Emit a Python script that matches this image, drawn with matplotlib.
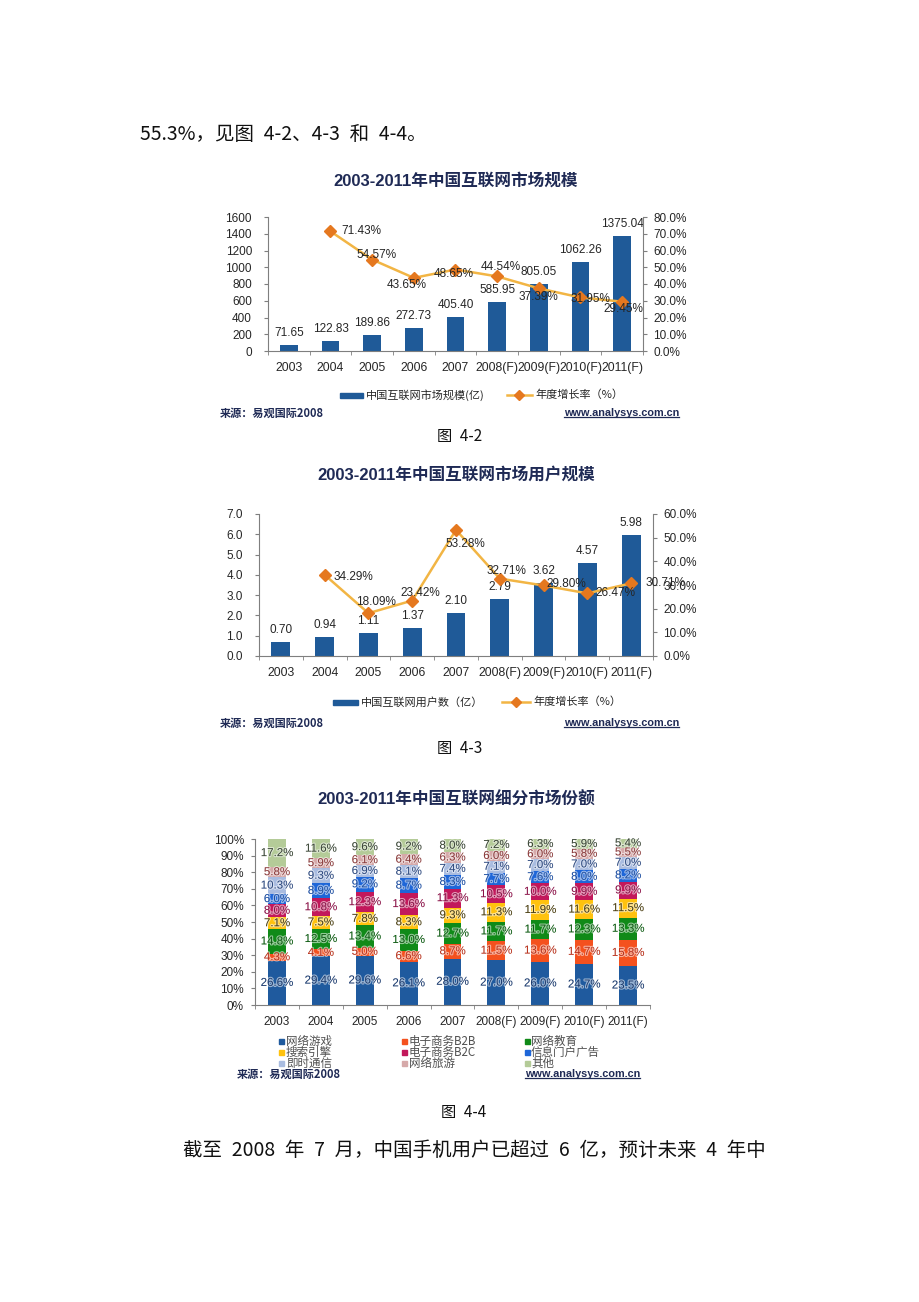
import numpy as np
import matplotlib
matplotlib.use('Agg')
import matplotlib.pyplot as plt
from matplotlib.lines import Line2D
from matplotlib.patches import Rectangle
import matplotlib.patheffects as pe
from matplotlib.ticker import FormatStrFormatter

plt.rcParams['font.family'] = ['Liberation Sans', 'Noto Sans CJK SC', 'DejaVu Sans']

# ---------------- data ----------------
years = ['2003', '2004', '2005', '2006', '2007', '2008(F)', '2009(F)', '2010(F)', '2011(F)']

market_size = [71.65, 122.83, 189.86, 272.73, 405.40, 585.95, 805.05, 1062.26, 1375.04]
market_growth = [np.nan, 71.43, 54.57, 43.65, 48.65, 44.54, 37.39, 31.95, 29.45]

users = [0.70, 0.94, 1.11, 1.37, 2.10, 2.79, 3.62, 4.57, 5.98]
user_growth = [np.nan, 34.29, 18.09, 23.42, 53.28, 32.71, 29.80, 26.47, 30.71]

segments = ['网络游戏', '电子商务B2B', '网络教育', '搜索引擎', '电子商务B2C',
            '信息门户广告', '即时通信', '网络旅游', '其他']
share_games = [26.6, 29.4, 29.6, 26.1, 28.0, 27.0, 26.0, 24.7, 23.5]
share_b2b = [4.3, 4.1, 5.0, 6.6, 8.7, 11.5, 13.6, 14.7, 15.8]
share_edu = [14.8, 12.5, 13.4, 13.0, 12.7, 11.7, 11.7, 12.3, 13.3]
share_search = [7.1, 7.5, 7.8, 8.3, 9.3, 11.3, 11.9, 11.6, 11.5]
share_b2c = [8.0, 10.8, 12.3, 13.6, 11.3, 10.5, 10.0, 9.9, 9.9]
share_portal = [6.0, 8.9, 9.2, 8.7, 8.3, 7.7, 7.6, 8.0, 8.2]
share_im = [10.3, 9.3, 6.9, 8.1, 7.4, 7.1, 7.0, 7.0, 7.0]
share_travel = [5.8, 5.9, 6.1, 6.4, 6.3, 6.0, 6.0, 5.8, 5.5]
share_other = [17.2, 11.6, 9.6, 9.2, 8.0, 7.2, 6.3, 5.9, 5.4]

# ---------------- styles ----------------
W, H = 920, 1302
BAR = '#1F5A98'
LINE = '#F2B544'
MARK = '#E5781F'
AXC = '#7F7F7F'
TXT = '#262626'
TITLE_C = '#1F2A55'
SEG_COLORS = ['#1F5A9E', '#F4511E', '#108A18', '#FFC20E', '#C2185B',
              '#1E66D8', '#A9BCE0', '#D6A9A9', '#B4CB98']
SEG_TXT = ['#1A3A6E', '#B8301A', '#0B5A10', '#4A3E10', '#8A1046',
           '#1A4CA0', '#2E4A80', '#8A3A3A', '#3A4636']
growth_off1 = [None, (31, 0), (4, -5), (-7, 7), (-2, 4), (4, -9), (0, 9), (10, 2), (1, 7)]
growth_off2 = [None, (29, 2), (8, -11), (8, -8), (9, 14), (7, -8), (23, -1), (28, 0), (34, 0)]
LBL_FS = 8.5
TICK_FS = 8.5
XT_FS = 8.8

fig = plt.figure(figsize=(W / 100, H / 100), dpi=100)
fig.patch.set_facecolor('white')


def axrect(l, t, r, b):
    return [l / W, 1 - b / H, (r - l) / W, (b - t) / H]


def T(x, y, s, **kw):
    return fig.text(x / W, 1 - y / H, s, **kw)


CJK = ['Noto Sans CJK SC', 'DejaVu Sans']
SP = '\u2002'


def style_axes(ax, fs=TICK_FS, pad=8.5):
    for sp in ['top', 'right']:
        ax.spines[sp].set_visible(False)
    ax.spines['left'].set_color(AXC)
    ax.spines['bottom'].set_color(AXC)
    ax.tick_params(axis='y', direction='out', length=3, color=AXC, labelsize=fs,
                   labelcolor=TXT, pad=pad)


def source_line(ytop, xl, xr):
    T(xl, ytop, '来源：易观国际2008', fontsize=8, fontweight='bold', color=TITLE_C,
      family=CJK, va='center', ha='left')
    t = T(xr, ytop, 'www.analysys.com.cn', fontsize=7.8, fontweight='bold',
          color=TITLE_C, va='center', ha='right')
    return t


url_texts = []


def bar_line_chart(rect, values, growth, ylim, ystep, yfmt, rlim, rstep,
                   vfmt, offs, bar_w, legend_y, leg_bar, leg_line, leg1, leg2):
    ax = fig.add_axes(axrect(*rect))
    x = np.arange(len(years))
    ax.bar(x, values, width=bar_w, color=BAR, zorder=2)
    ax.set_xlim(-0.5, len(years) - 0.5)
    ax.set_ylim(*ylim)
    ax.set_yticks(np.arange(ylim[0], ylim[1] + ystep / 2, ystep))
    ax.yaxis.set_major_formatter(FormatStrFormatter(yfmt))
    style_axes(ax)
    ax.set_xticks(x)
    ax.set_xticklabels(years)
    ax.set_xticks(np.arange(-0.5, len(years), 1), minor=True)
    ax.tick_params(axis='x', which='major', length=0, labelsize=XT_FS, labelcolor=TXT, pad=8)
    ax.tick_params(axis='x', which='minor', length=3, color=AXC, direction='out')
    for xi, v in zip(x, values):
        ax.annotate(vfmt % v, (xi, v), xytext=(0, 12), textcoords='offset pixels',
                    ha='center', va='center', fontsize=LBL_FS, color=TXT, zorder=5)
    axr = ax.twinx()
    axr.set_xlim(-0.5, len(years) - 0.5)
    for sp in ['top', 'left', 'bottom']:
        axr.spines[sp].set_visible(False)
    axr.spines['right'].set_color(AXC)
    axr.plot(x, growth, color=LINE, lw=1.8, marker='D', ms=6, mfc=MARK, mec=MARK, zorder=3)
    axr.set_ylim(*rlim)
    axr.set_yticks(np.arange(rlim[0], rlim[1] + rstep / 2, rstep))
    axr.yaxis.set_major_formatter(FormatStrFormatter('%.1f%%'))
    axr.tick_params(axis='y', direction='out', length=3, color=AXC, labelsize=TICK_FS,
                    labelcolor=TXT, pad=4.5)
    for xi, g, o in zip(x, growth, offs):
        if o is None or np.isnan(g):
            continue
        axr.annotate('%.2f%%' % g, (xi, g), xytext=(o[0], -o[1]), textcoords='offset pixels',
                     ha='center', va='center', fontsize=LBL_FS, color=TXT, zorder=6)
    # legend
    fig.add_artist(Rectangle((leg_bar[0] / W, 1 - (legend_y + 2.5) / H),
                             (leg_bar[1] - leg_bar[0]) / W, 5 / H, transform=fig.transFigure,
                             color=BAR))
    T(leg_bar[1] + 3, legend_y, leg1, fontsize=8, color=TXT, family=CJK, va='center')
    fig.add_artist(Line2D([leg_line[0] / W, leg_line[1] / W], [1 - legend_y / H] * 2,
                          transform=fig.transFigure, color=LINE, lw=1.8))
    fig.add_artist(Line2D([(leg_line[0] + leg_line[1]) / 2 / W], [1 - legend_y / H],
                          transform=fig.transFigure, marker='D', ms=5, mfc=MARK, mec=MARK))
    T(leg_line[1] + 3, legend_y, leg2, fontsize=8, color=TXT, family=CJK, va='center')
    return ax


# ---------------- body text ----------------
T(140, 135, '55.3%，见图' + SP + '4-2、4-3' + SP + '和' + SP + '4-4。', fontsize=14,
  family=CJK, va='center', ha='left', color='#111111')

# ---------------- chart 1 ----------------
T(456, 181, '2003-2011年中国互联网市场规模', fontsize=12, fontweight='bold',
  color=TITLE_C, ha='center', va='center')
bar_line_chart((268, 217, 643, 351), market_size, market_growth, (0, 1600), 200, '%d',
               (0, 80), 10, '%.2f', growth_off1, 0.42, 395, (340, 363), (507, 532),
               '中国互联网市场规模(亿)', '年度增长率（%）')
url_texts.append(source_line(413, 220, 679))
T(460, 436, '图' + SP + '4-2', fontsize=11, family=CJK, ha='center', va='center', color='#111111')

# ---------------- chart 2 ----------------
T(456, 475, '2003-2011年中国互联网市场用户规模', fontsize=12, fontweight='bold',
  color=TITLE_C, ha='center', va='center')
bar_line_chart((259, 514, 653, 656), users, user_growth, (0, 7), 1, '%.1f',
               (0, 60), 10, '%.2f', growth_off2, 0.43, 702, (333, 358), (502, 530),
               '中国互联网用户数（亿）', '年度增长率（%）')
url_texts.append(source_line(723, 220, 679))
T(460, 748, '图' + SP + '4-3', fontsize=11, family=CJK, ha='center', va='center', color='#111111')

# ---------------- chart 3 ----------------
T(456, 800, '2003-2011年中国互联网细分市场份额', fontsize=12, fontweight='bold',
  color=TITLE_C, ha='center', va='center')
ax3 = fig.add_axes(axrect(255, 839, 650, 1005))
shares = [share_games, share_b2b, share_edu, share_search, share_b2c,
          share_portal, share_im, share_travel, share_other]
x = np.arange(len(years))
bottom = np.zeros(len(years))
for i, (seg, vals) in enumerate(zip(segments, shares)):
    vals = np.array(vals)
    ax3.bar(x, vals, width=0.41, bottom=bottom, color=SEG_COLORS[i], zorder=2)
    for xi, b, v in zip(x, bottom, vals):
        ax3.text(xi, b + v / 2, '%.1f%%' % v, ha='center', va='center', fontsize=8.3,
                 color=SEG_TXT[i], zorder=5,
                 path_effects=[pe.withStroke(linewidth=1.6, foreground='white', alpha=0.55)])
    bottom = bottom + vals
ax3.set_xlim(-0.5, len(years) - 0.5)
ax3.set_ylim(0, 100)
ax3.set_yticks(np.arange(0, 101, 10))
ax3.yaxis.set_major_formatter(FormatStrFormatter('%d%%'))
style_axes(ax3, fs=8.5, pad=5)
ax3.set_xticks(x)
ax3.set_xticklabels(years)
ax3.set_xticks(np.arange(-0.5, len(years), 1), minor=True)
ax3.tick_params(axis='x', which='major', length=0, labelsize=8.5, labelcolor=TXT, pad=8)
ax3.tick_params(axis='x', which='minor', length=3, color=AXC, direction='out')

leg_cols = [282, 405, 527]
leg_rows = [1041, 1052, 1063]
for i, seg in enumerate(segments):
    cx = leg_cols[i % 3]
    cy = leg_rows[i // 3]
    fig.add_artist(Rectangle(((cx - 2.5) / W, 1 - (cy + 2.5) / H), 5 / W, 5 / H,
                             transform=fig.transFigure, color=SEG_COLORS[i]))
    T(cx + 4, cy, seg, fontsize=8.3, color='#505050', family=CJK, va='center', ha='left')
url_texts.append(source_line(1074, 237, 640))
T(464, 1112, '图' + SP + '4-4', fontsize=11, family=CJK, ha='center', va='center', color='#111111')

T(183, 1150, SP.join(['截至', '2008', '年', '7', '月，中国手机用户已超过', '6',
                      '亿，预计未来', '4', '年中']), fontsize=14,
  family=CJK, va='center', ha='left', color='#111111')

# underline urls
fig.canvas.draw()
r = fig.canvas.get_renderer()
for t in url_texts:
    bb = t.get_window_extent(r)
    fig.add_artist(Line2D([bb.x0 / W, bb.x1 / W], [(bb.y0 + 1) / H] * 2,
                          transform=fig.transFigure, color=TITLE_C, lw=0.9))

fig.savefig('out.png', dpi=100)
